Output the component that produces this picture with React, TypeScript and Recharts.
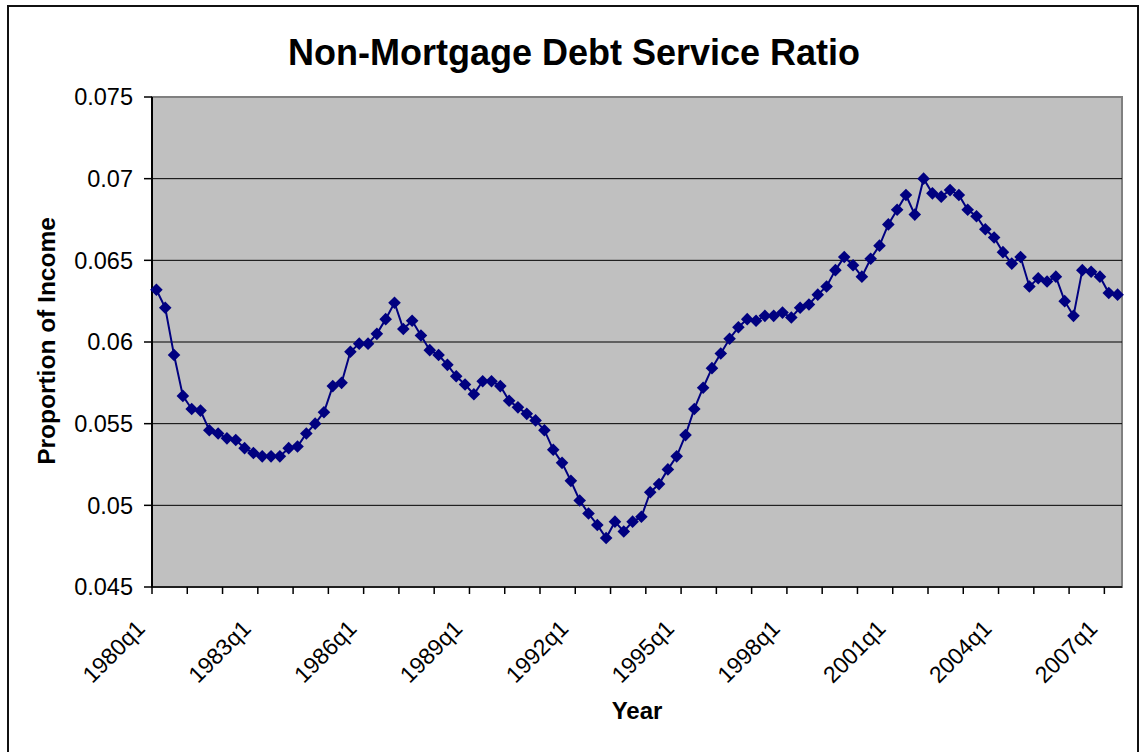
import { CartesianGrid, Label, Line, LineChart, XAxis, YAxis } from 'recharts'

// quarterly non-mortgage debt service ratio, 1980q1 .. 2007q2
const ratio = [
  0.0632, 0.0621, 0.0592, 0.0567, 0.0559, 0.0558, 0.0546, 0.0544, 0.0541, 0.054,
  0.0535, 0.0532, 0.053, 0.053, 0.053, 0.0535, 0.0536, 0.0544, 0.055, 0.0557,
  0.0573, 0.0575, 0.0594, 0.0599, 0.0599, 0.0605, 0.0614, 0.0624, 0.0608, 0.0613,
  0.0604, 0.0595, 0.0592, 0.0586, 0.0579, 0.0574, 0.0568, 0.0576, 0.0576, 0.0573,
  0.0564, 0.056, 0.0556, 0.0552, 0.0546, 0.0534, 0.0526, 0.0515, 0.0503, 0.0495,
  0.0488, 0.048, 0.049, 0.0484, 0.049, 0.0493, 0.0508, 0.0513, 0.0522, 0.053,
  0.0543, 0.0559, 0.0572, 0.0584, 0.0593, 0.0602, 0.0609, 0.0614, 0.0613, 0.0616,
  0.0616, 0.0618, 0.0615, 0.0621, 0.0623, 0.0629, 0.0634, 0.0644, 0.0652, 0.0647,
  0.064, 0.0651, 0.0659, 0.0672, 0.0681, 0.069, 0.0678, 0.07, 0.0691, 0.0689,
  0.0693, 0.069, 0.0681, 0.0677, 0.0669, 0.0664, 0.0655, 0.0648, 0.0652, 0.0634,
  0.0639, 0.0637, 0.064, 0.0625, 0.0616, 0.0644, 0.0643, 0.064, 0.063, 0.0629,
]

const years = [
  1980, 1981, 1982, 1983, 1984, 1985, 1986, 1987, 1988, 1989, 1990, 1991, 1992, 1993,
  1994, 1995, 1996, 1997, 1998, 1999, 2000, 2001, 2002, 2003, 2004, 2005, 2006, 2007,
]
const quarterNames = ['q1', 'q2', 'q3', 'q4']

const yTicks = [0.045, 0.05, 0.055, 0.06, 0.065, 0.07, 0.075]
const gridLines = [0.05, 0.055, 0.06, 0.065, 0.07]

const quarters = years.flatMap((y) => quarterNames.map((q) => `${y}${q}`)).slice(0, ratio.length)
const data = quarters.map((quarter, i) => ({ quarter, ratio: ratio[i] }))

const FONT = '"Liberation Sans", Arial, sans-serif'
const NAVY = '#000080'
const STEP = 970 / ratio.length

function QuarterTick(props: any) {
  const { x, y, index } = props
  const i = index ?? props.payload?.index ?? 0
  const out: any[] = []
  if (i % 4 === 0) {
    const tx = x - STEP / 2
    out.push(<line key="t" x1={tx} x2={tx} y1={y} y2={y + 7} stroke="#000" strokeWidth={1.5} />)
  }
  if (i % 12 === 0) {
    const ax = x - 10
    const ay = y + 43
    out.push(
      <text
        key="l"
        x={ax}
        y={ay}
        textAnchor="end"
        transform={`rotate(-45 ${ax} ${ay})`}
        fontSize={23}
        fontFamily={FONT}
        fill="#000"
      >
        {props.payload.value}
      </text>,
    )
  }
  return <g>{out}</g>
}

function Diamond(props: any) {
  const { cx, cy, index } = props
  const r = 6.3
  return <path key={index} d={`M${cx},${cy - r}L${cx + r},${cy}L${cx},${cy + r}L${cx - r},${cy}Z`} fill={NAVY} />
}

export default function App() {
  return (
    <div style={{ position: 'absolute', left: 0, top: 0, width: 1140, height: 752, background: '#fff', overflow: 'hidden' }}>
      <div
        style={{
          position: 'absolute',
          left: 7,
          top: 5,
          width: 1132,
          height: 800,
          border: '2px solid #111',
          boxSizing: 'border-box',
        }}
      />
      {/* plot area frame sits behind the chart svg */}
      <div
        style={{
          position: 'absolute',
          left: 151,
          top: 96,
          width: 972,
          height: 492,
          background: '#C0C0C0',
          border: '2px solid #808080',
          boxSizing: 'border-box',
        }}
      />
      <svg width={1140} height={90} style={{ position: 'absolute', left: 0, top: 0 }}>
        <text x={574} y={65} textAnchor="middle" fontSize={36} fontWeight="bold" fontFamily={FONT} fill="#000">
          Non-Mortgage Debt Service Ratio
        </text>
      </svg>
      <div style={{ position: 'absolute', left: 0, top: 0 }}>
        <LineChart width={1140} height={752} data={data} margin={{ top: 97, right: 18, bottom: 65, left: 92 }}>
          <CartesianGrid vertical={false} horizontalValues={gridLines} stroke="#000" fill="none" />
          <XAxis
            dataKey="quarter"
            interval={0}
            height={100}
            padding={{ left: STEP / 2, right: STEP / 2 }}
            tickSize={0}
            tickMargin={0}
            tickLine={false}
            axisLine={{ stroke: '#000', strokeWidth: 1.5 }}
            tick={QuarterTick}
          >
            <Label
              content={() => (
                <text x={637} y={719} textAnchor="middle" fontSize={24} fontWeight="bold" fontFamily={FONT} fill="#000">
                  Year
                </text>
              )}
            />
          </XAxis>
          <YAxis
            type="number"
            width={60}
            domain={[0.045, 0.075]}
            ticks={yTicks}
            interval={0}
            allowDataOverflow
            tickSize={8}
            tickMargin={11}
            tickLine={{ stroke: '#000', strokeWidth: 1.5 }}
            axisLine={{ stroke: '#000', strokeWidth: 2 }}
            tick={{ fontSize: 23.5, fontFamily: FONT, fill: '#000' }}
          >
            <Label
              content={() => (
                <text
                  x={46}
                  y={341}
                  textAnchor="middle"
                  dominantBaseline="central"
                  transform="rotate(-90 46 341)"
                  fontSize={24.5}
                  fontWeight="bold"
                  fontFamily={FONT}
                  fill="#000"
                >
                  Proportion of Income
                </text>
              )}
            />
          </YAxis>
          <Line
            type="linear"
            dataKey="ratio"
            stroke={NAVY}
            strokeWidth={2}
            dot={Diamond}
            activeDot={false}
            isAnimationActive={false}
          />
        </LineChart>
      </div>
    </div>
  )
}
